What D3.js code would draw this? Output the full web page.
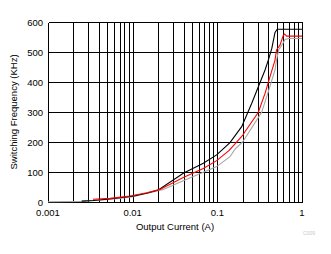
<!DOCTYPE html>
<html>
<head>
<meta charset="utf-8">
<script src="https://cdn.jsdelivr.net/npm/d3@7"></script>
<style>
    body { margin: 0; background: #ffffff; }
    text { font-family: "Liberation Sans", Arial, sans-serif; fill: #000; }
</style>
</head>
<body>
<div id="chart"></div>
<script>
// values
const yTicks = [0, 100, 200, 300, 400, 500, 600];
const xTicks = [0.001, 0.01, 0.1, 1];

const blackCurrent = [0.0025, 0.0034, 0.005, 0.007, 0.01, 0.015, 0.0201, 0.0396, 0.0683, 0.0982, 0.141, 0.194, 0.255, 0.305, 0.366, 0.40, 0.44, 0.48, 0.51, 1.0];
const blackFreq = [3, 5, 9, 14, 19, 30, 40, 96, 129, 157, 198, 251, 329, 384, 440, 473, 512, 565, 576, 576];

const redCurrent = [0.0034, 0.0054, 0.0093, 0.0147, 0.021, 0.0396, 0.0683, 0.0982, 0.138, 0.2, 0.212, 0.305, 0.366, 0.419, 0.48, 0.50, 0.55, 0.60, 0.62, 0.66, 1.0];
const redFreq = [9, 12, 20, 31, 42, 82, 112, 138, 172, 223, 234, 299, 362, 418, 473, 507, 523, 555, 560, 553, 553];

const grayCurrent = [0.001, 0.0025, 0.004, 0.007, 0.01, 0.015, 0.023, 0.0396, 0.0683, 0.0982, 0.141, 0.162, 0.2, 0.232, 0.334, 0.40, 0.48, 0.50, 0.53, 0.60, 0.63, 0.70, 1.0];
const grayFreq = [1, 2, 6, 12, 18, 29, 42, 71, 99, 118, 151, 176, 201, 229, 299, 368, 440, 473, 507, 531, 542, 545, 545];

const width = 331, height = 254;
const margin = { left: 48, right: 29, top: 22, bottom: 52 };

const svg = d3.select("#chart")
    .append("svg")
    .attr("width", width)
    .attr("height", height)

const x = d3.scaleLog()
    .domain([0.001, 1])
    .range([margin.left, width - margin.right])

const y = d3.scaleLinear()
    .domain([0, 600])
    .range([height - margin.bottom, margin.top])

const grid = svg.append("g")
    .attr("transform", "translate(0.5,0.5)")
    .attr("shape-rendering", "crispEdges")

// vertical grid, every decade step
const minor = [];
for (let d = 0.001; d < 1; d *= 10) {
    for (let k = 1; k <= 9; k++) minor.push(d * k);
}
minor.push(1);

grid.selectAll(".vline")
    .data(minor)
    .join("line")
    .attr("x1", d => Math.round(x(d)))
    .attr("x2", d => Math.round(x(d)))
    .attr("y1", y(600))
    .attr("y2", y(0))
    .attr("stroke", "#000")

grid.selectAll(".hline")
    .data(yTicks)
    .join("line")
    .attr("x1", x(0.001))
    .attr("x2", x(1))
    .attr("y1", d => Math.round(y(d)))
    .attr("y2", d => Math.round(y(d)))
    .attr("stroke", "#000")

// curves
const line = d3.line()
    .x(d => x(d[0]))
    .y(d => y(d[1]))

const series = [
    { current: grayCurrent, freq: grayFreq, color: "#a6a6a6" },
    { current: blackCurrent, freq: blackFreq, color: "#000000" },
    { current: redCurrent, freq: redFreq, color: "#ff0000" }
];

series.forEach(s => {
    svg.append("path")
        .datum(d3.zip(s.current, s.freq))
        .attr("d", line)
        .attr("fill", "none")
        .attr("stroke", s.color)
        .attr("stroke-width", 1.1)
})

// tick labels
svg.selectAll(".ylab")
    .data(yTicks)
    .join("text")
    .attr("x", margin.left - 5)
    .attr("y", d => y(d) + 3.5)
    .attr("text-anchor", "end")
    .style("font-size", "9.5px")
    .text(d => d)

svg.selectAll(".xlab")
    .data(xTicks)
    .join("text")
    .attr("x", d => x(d))
    .attr("y", y(0) + 14)
    .attr("text-anchor", "middle")
    .style("font-size", "9.5px")
    .text(d => d)

svg.append("text")
    .attr("x", (x(0.001) + x(1)) / 2)
    .attr("y", y(0) + 28)
    .attr("text-anchor", "middle")
    .style("font-size", "9.5px")
    .text("Output Current (A)")

svg.append("text")
    .attr("transform", `translate(${17}, ${(y(0) + y(600)) / 2}) rotate(-90)`)
    .attr("text-anchor", "middle")
    .style("font-size", "9.5px")
    .text("Switching Frequency (KHz)")

svg.append("text")
    .attr("x", 315)
    .attr("y", 235)
    .attr("text-anchor", "end")
    .style("font-size", "5px")
    .style("fill", "#c8c8c8")
    .text("C009")
</script>
</body>
</html>
